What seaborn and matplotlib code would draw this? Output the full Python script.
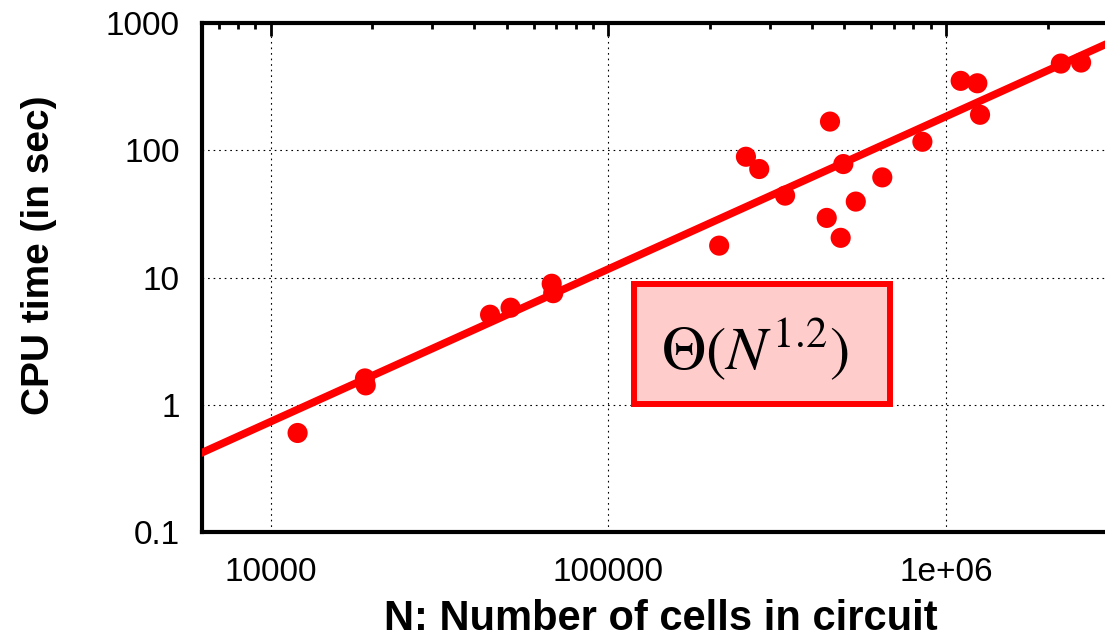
import numpy as np
import pandas as pd
import seaborn as sns
from matplotlib import pyplot as plt
from matplotlib.patches import Rectangle
from matplotlib.ticker import LogLocator, FixedLocator, FixedFormatter, NullFormatter

# circuit size vs runtime
cells = [12000, 19000, 19100, 44600, 51300, 67900, 68600, 212800, 255400, 279700,
         333600, 453200, 443200, 487400, 496300, 540300, 647400, 851000, 1105000,
         1238000, 1261000, 2188000, 2512000]
cpu_sec = [0.60, 1.61, 1.42, 5.10, 5.79, 8.93, 7.53, 17.8, 88.9, 71.2,
           44.0, 168, 29.4, 20.5, 77.9, 39.5, 61.2, 116.6, 351,
           336, 190, 480, 489]

# fitted trend line end points
fit_n = [6000, 5000000]
fit_t = [0.40, 1270]

xticks = [1e4, 1e5, 1e6]
xtick_labels = ['10000', '100000', '1e+06']
yticks = [0.1, 1, 10, 100, 1000]
ytick_labels = ['0.1', '1', '10', '100', '1000']

df = pd.DataFrame({'cells': cells, 'cpu': cpu_sec})
fit = pd.DataFrame({'cells': fit_n, 'cpu': fit_t})

sns.set_style('white')
plt.rcParams['font.family'] = ['Liberation Sans', 'DejaVu Sans']
plt.rcParams['mathtext.fontset'] = 'stix'
for key in ['text.color', 'axes.labelcolor', 'xtick.color', 'ytick.color']:
    plt.rcParams[key] = 'black'

fig = plt.figure(figsize=(11.05, 6.4), dpi=100)
ax = fig.add_axes([202/1105, 108/640, 980/1105, 509/640])
ax.set_xscale('log')
ax.set_yscale('log')

sns.lineplot(data=fit, x='cells', y='cpu', color='#ff0000', lw=5.5, ax=ax, zorder=3)
sns.scatterplot(data=df, x='cells', y='cpu', color='#ff0000', s=210, edgecolor='none',
                ax=ax, zorder=4, legend=False)

ax.set_xlim(10**3.796, 5e6)
ax.set_ylim(0.1, 1000)

ax.xaxis.set_major_locator(FixedLocator(xticks))
ax.xaxis.set_major_formatter(FixedFormatter(xtick_labels))
ax.yaxis.set_major_locator(FixedLocator(yticks))
ax.yaxis.set_major_formatter(FixedFormatter(ytick_labels))
ax.xaxis.set_minor_locator(LogLocator(base=10, subs=np.arange(2, 10)))
ax.yaxis.set_minor_locator(LogLocator(base=10, subs=np.arange(2, 10)))
ax.xaxis.set_minor_formatter(NullFormatter())
ax.yaxis.set_minor_formatter(NullFormatter())

ax.tick_params(which='both', direction='in', top=True, right=False, color='black', width=2)
ax.tick_params(which='major', length=9, labelsize=24)
ax.tick_params(which='minor', length=4.5)
ax.tick_params(axis='x', which='major', pad=18)
ax.tick_params(axis='y', which='major', pad=16)

for side in ['left', 'top', 'bottom']:
    ax.spines[side].set_linewidth(3)
    ax.spines[side].set_color('black')
ax.spines['right'].set_visible(False)

ax.grid(which='major', color='black', linestyle=(0, (1.5, 3.5)), lw=0.8)
ax.set_axisbelow(True)

ax.set_xlabel('N: Number of cells in circuit', fontsize=30, fontweight='bold')
ax.set_ylabel('CPU time (in sec)', fontsize=28, fontweight='bold')
ax.xaxis.set_label_coords(0.468, -0.1316)
ax.yaxis.set_label_coords(-0.148, 0.544)

# complexity annotation
ax.add_patch(Rectangle((633.7/1105, 1 - 403.7/640), 256.3/1105, 120/640,
                       transform=fig.transFigure, facecolor='#ffcccc',
                       edgecolor='#ff0000', lw=4.3, zorder=5))
ax.text(754.5/1105, 1 - 349/640, r'$\Theta(N^{1.2})$', transform=fig.transFigure,
        ha='center', va='center', fontsize=44, color='black', zorder=6)

plt.savefig('out.png', dpi=100)
